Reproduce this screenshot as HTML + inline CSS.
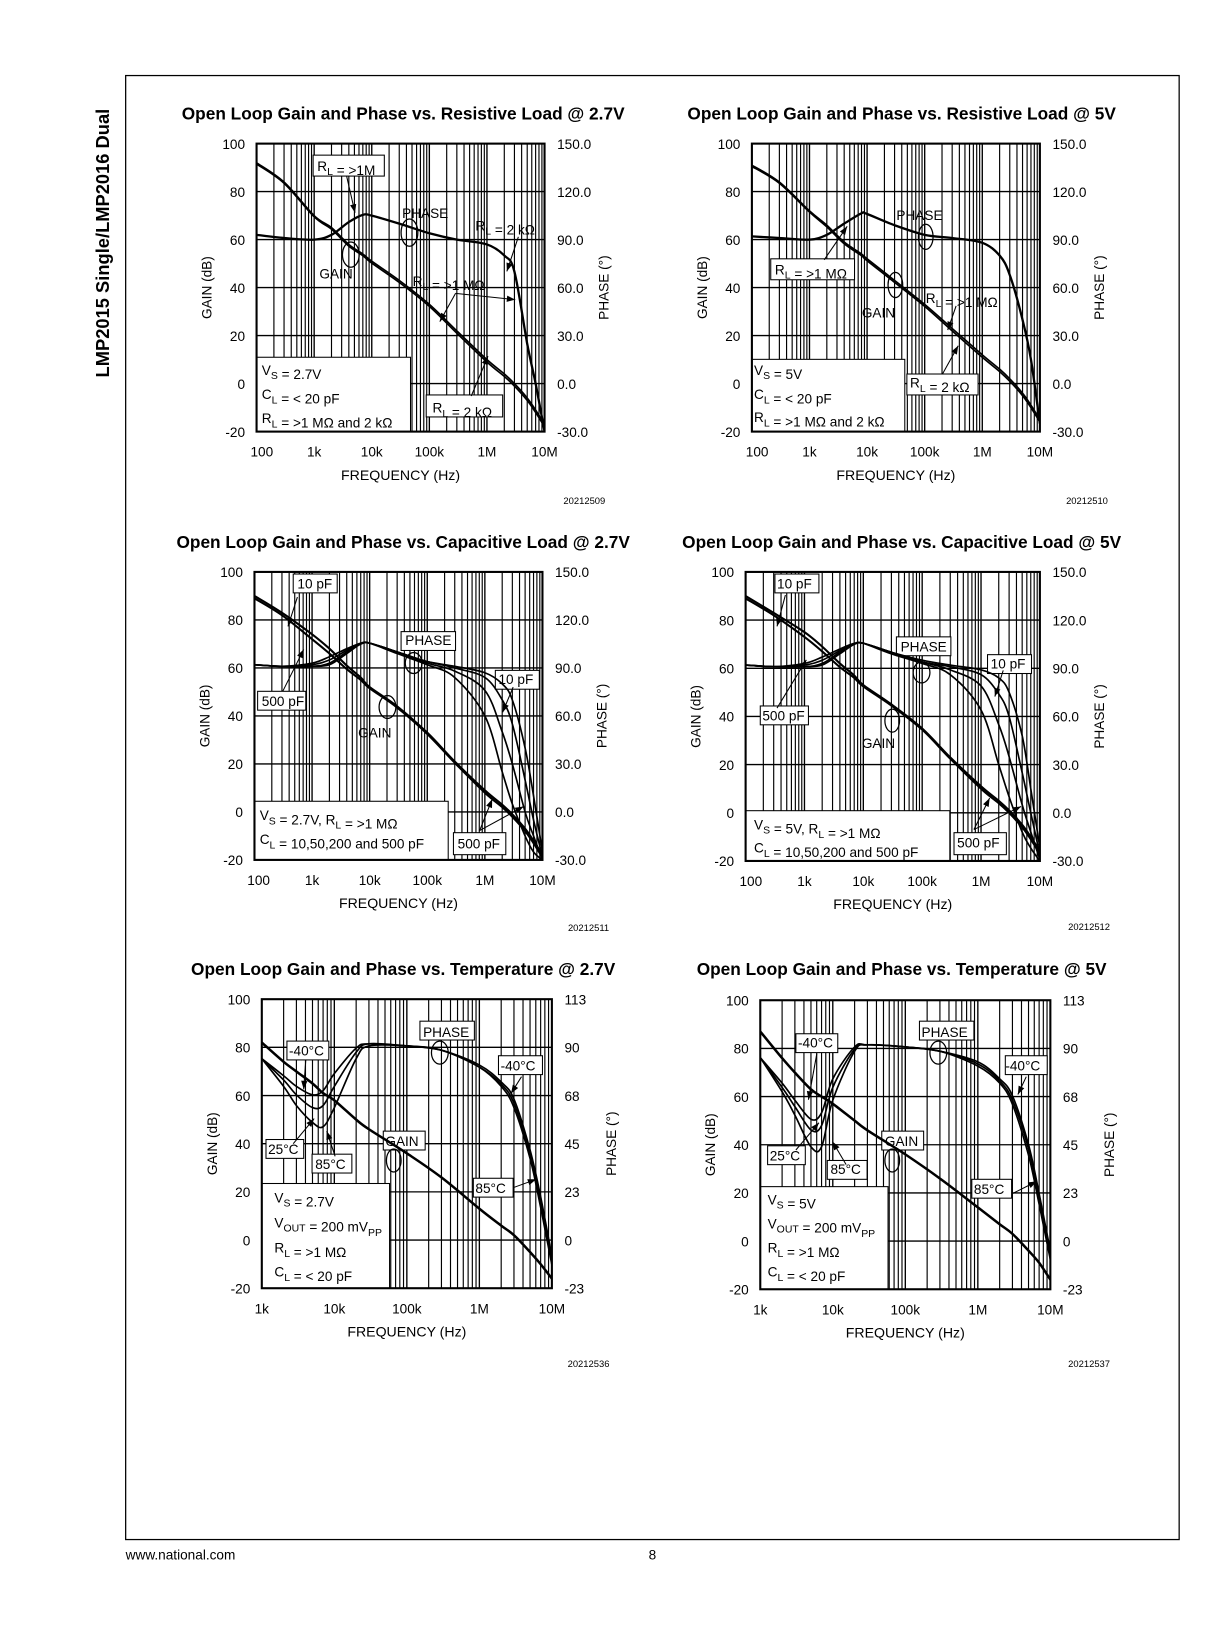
<!DOCTYPE html>
<html><head><meta charset="utf-8"><style>
html,body{margin:0;padding:0;background:#fff;}
svg{display:block;font-family:"Liberation Sans",Arial,sans-serif;}
</style></head><body>
<svg id="page" xmlns="http://www.w3.org/2000/svg" width="1220" height="1635" viewBox="0 0 1165 1561">
<rect x="0" y="0" width="1165" height="1561" fill="#fff"/>
<text transform="translate(104,232) rotate(-90)" text-anchor="middle" font-size="17.5" font-weight="bold">LMP2015 Single/LMP2016 Dual</text>
<rect x="120" y="72" width="1006" height="1398" fill="none" stroke="#000" stroke-width="1.2"/>
<text x="120" y="1489" font-size="13">www.national.com</text>
<text x="623" y="1489" font-size="13" text-anchor="middle">8</text>
<g id="charts"></g>
</svg>
<script>
// ---- data arrays ----
const aFreq = [100,300,1e3,2e3,4e3,7e3,1e4,3e4,1e5,3e5,1e6,2e6,3e6,5e6,7e6,1e7];
const aGain1M = [92,84,70,65,58,54,51,43,33,22,10,4,0,-6,-11,-17];
const aGain2k = [91.5,83.5,69.5,64.3,57.3,53.3,50.2,42.2,32.2,21,9,3,-1,-7,-12,-18];
const aPhase = [93,91,90,93,101,105.5,105,100,94,90,87,80,70,25,0,-30];

const bFreq = [100,300,1e3,2e3,4e3,8e3,1e4,3e4,1e5,3e5,1e6,2e6,3e6,5e6,7e6,1e7];
const bGain1M = [91,84,72,66,59,54,52,43,33,23,12,6,2,-4,-9,-15];
const bGain2k = [90.5,83.5,71.5,65.3,58.3,53.3,51.2,42.2,32.2,22,11,5,1,-5,-10,-16];
const bPhase = [92,91,90,93,100,106.5,106,99,93,91,88,80,68,40,15,-25];

const cFreq = [100,300,1e3,2e3,4e3,7e3,1e4,3e4,1e5,3e5,1e6,2e6,3e6,5e6,7e6,1e7];
const cGain10 = [90,83,74,68,61,56,52,44,33,21,9,3,-1,-7,-12,-18];
const cGain500 = [89,82,72,66,59.5,55,51.5,43.5,32.5,20.5,8,2,-2,-8,-13,-19];
const cPhase10 = [92,91,91,92,99,105,105.5,100,94,91,87,80,70,40,10,-25];
const cPhase50 = [92,91,91,93,100,105,105.5,100,94,90,84,70,55,20,-5,-28];
const cPhase200 = [92,91,92,95,101,105,105.5,100,93,88,76,50,30,0,-15,-30];
const cPhase500 = [92,91,93,97,102,105.5,105.5,99,92,84,60,25,5,-15,-25,-30];

const dFreq = [100,300,1e3,2e3,4e3,7e3,1e4,3e4,1e5,3e5,1e6,2e6,3e6,5e6,7e6,1e7];
const dGain10 = [90,83,75,69,62,57,53,45,35,23,11,5,1,-5,-10,-16];
const dGain500 = [89,82,73,67,60.5,56,52.5,44.5,34.5,22.5,10,4,0,-6,-11,-17];
const dPhase10 = [92,91,91,92,99,105,105.5,100,95,92,89,84,75,48,15,-22];
const dPhase50 = [92,91,91,93,100,105,105.5,100,94,91,86,74,60,25,0,-26];
const dPhase200 = [92,91,92,95,101,105,105.5,100,94,89,79,55,35,5,-12,-29];
const dPhase500 = [92,91,93,97,102,105.5,105.5,99,93,86,64,30,10,-12,-22,-30];

const eFreq = [1e3,2e3,3e3,5e3,7e3,1e4,2e4,3e4,1e5,3e5,1e6,2e6,3e6,5e6,7e6,1e7];
const eGain = [82,74,70,65,61,58,50,46,36,26,13,6,2,-5,-10,-16];
const ePhaseM40 = [85,77,72,68,70,78,90,92,91,89,82,74,66,42,20,-8];
const ePhase25 = [85,75,68,62,63,72,88,92,91,89,81,73,64,40,18,-10];
const ePhase85 = [85,72,63,55,53,62,85,91,91,89,81,72,62,38,15,-12];

const fFreq = [1e3,2e3,3e3,5e3,7e3,1e4,2e4,3e4,1e5,3e5,1e6,2e6,3e6,5e6,7e6,1e7];
const fGain = [87,76,70,63,60,57,50,46,36,26,14,7,3,-4,-9,-16];
const fPhaseM40 = [86,74,66,57,60,76,91,92,91,89,84,76,68,45,22,-5];
const fPhase25 = [86,72,63,52,54,72,90,92,91,89,83,75,66,43,20,-7];
const fPhase85 = [86,70,59,44,44,66,89,92,91,89,82,74,64,40,17,-9];

// ---- tick labels ----
const xTicksA = ["100","1k","10k","100k","1M","10M"];
const xTicksE = ["1k","10k","100k","1M","10M"];
const gainTicks = ["100","80","60","40","20","0","-20"];
const phaseTicksA = ["150.0","120.0","90.0","60.0","30.0","0.0","-30.0"];
const phaseTicksE = ["113","90","68","45","23","0","-23"];

const NS="http://www.w3.org/2000/svg";
const root=document.getElementById('charts');
function el(tag,attrs,parent){const e=document.createElementNS(NS,tag);for(const k in attrs)e.setAttribute(k,attrs[k]);(parent||root).appendChild(e);return e;}

function pathD(pts){
  let d='M'+pts[0][0].toFixed(1)+','+pts[0][1].toFixed(1);
  for(let i=0;i<pts.length-1;i++){
    const p0=pts[Math.max(0,i-1)],p1=pts[i],p2=pts[i+1],p3=pts[Math.min(pts.length-1,i+2)];
    const c1x=p1[0]+(p2[0]-p0[0])/6,c1y=p1[1]+(p2[1]-p0[1])/6;
    const c2x=p2[0]-(p3[0]-p1[0])/6,c2y=p2[1]-(p3[1]-p1[1])/6;
    d+=' C'+c1x.toFixed(1)+','+c1y.toFixed(1)+' '+c2x.toFixed(1)+','+c2y.toFixed(1)+' '+p2[0].toFixed(1)+','+p2[1].toFixed(1);
  }
  return d;
}

function makeChart(c){
  const g=el('g',{});
  
  
  const W=c.x1-c.x0,H=c.y1-c.y0;
  const sx=f=>c.x0+(Math.log10(f)-c.dec0)/c.ndec*W;
  const sg=v=>c.y0+(c.gmax-v)/(c.gmax-c.gmin)*H;
  const sp=v=>c.y0+(c.pmax-v)/(c.pmax-c.pmin)*H;
  const t=el('text',{x:c.tx,y:c.ty,'text-anchor':'middle','font-size':16.5,'font-weight':'bold'},g);
  t.textContent=c.title;
  
  
  for(let d=0;d<c.ndec;d++){
    for(let k=2;k<=9;k++){
      const x=sx(Math.pow(10,c.dec0+d)*k);
      const ln=el('line',{x1:x,x2:x,y1:c.y0,y2:c.y1,stroke:'#000','stroke-width':1.1},g);
      
      
    }
    if(d>0){const x=sx(Math.pow(10,c.dec0+d));el('line',{x1:x,x2:x,y1:c.y0,y2:c.y1,stroke:'#000','stroke-width':1.3},g);}
  }
  for(let i=1;i<6;i++){
    const y=c.y0+i*H/6;
    const ln=el('line',{x1:c.x0,x2:c.x1,y1:y,y2:y,stroke:'#000','stroke-width':1.3},g);
    
    
  }
  (c.boxes||[]).forEach(b=>{const r=el('rect',{x:b[0],y:b[1],width:b[2],height:b[3],fill:'#fff',stroke:'#000','stroke-width':1},g);
    });
  const fr=el('rect',{x:c.x0,y:c.y0,width:W,height:H,fill:'none',stroke:'#000','stroke-width':2},g);
  
  
  gainTicks.forEach((s,i)=>{const tt=el('text',{x:c.x0-11,y:c.y0+i*H/6+5,'text-anchor':'end','font-size':13},g);tt.textContent=s;
    });
  c.pticks.forEach((s,i)=>{const tt=el('text',{x:c.x1+12,y:c.y0+i*H/6+5,'font-size':13},g);tt.textContent=s;
    });
  c.xticks.forEach((s,i)=>{const tt=el('text',{x:sx(Math.pow(10,c.dec0+i))+(c.xoff?c.xoff[i]:0),y:c.y1+24,'text-anchor':'middle','font-size':13},g);tt.textContent=s;
    });
  const xl=el('text',{x:(c.x0+c.x1)/2,y:c.y1+46,'text-anchor':'middle','font-size':13.5},g);xl.textContent='FREQUENCY (Hz)';
  
  const yl=el('text',{transform:`translate(${c.x0-43},${(c.y0+c.y1)/2}) rotate(-90)`,'text-anchor':'middle','font-size':13},g);yl.textContent='GAIN (dB)';
  
  const yr=el('text',{transform:`translate(${c.x1+61},${(c.y0+c.y1)/2}) rotate(-90)`,'text-anchor':'middle','font-size':13},g);yr.textContent='PHASE (°)';
  
  const fn=el('text',{x:c.figx,y:c.figy,'text-anchor':'middle','font-size':9},g);fn.textContent=c.fig;
  
  const clip='clip'+c.name;
  const cp=el('clipPath',{id:clip},g);el('rect',{x:c.x0,y:c.y0-2,width:W,height:H+4},cp);
  const sg2=el('g',{'clip-path':`url(#${clip})`},g);
  c.gains.forEach(s=>{const p=el('path',{d:pathD(c.freq.map((f,i)=>[sx(f),sg(s.v[i])])),fill:'none',stroke:'#000','stroke-width':s.w||1.6},sg2);
    });
  c.phases.forEach(s=>{const p=el('path',{d:pathD(c.freq.map((f,i)=>[sx(f),sp(s.v[i])])),fill:'none',stroke:'#000','stroke-width':s.w||1.6},sg2);
    });
  (c.ells||[]).forEach(e=>{const q=el('ellipse',{cx:e[0],cy:e[1],rx:e[2],ry:e[3],fill:'none',stroke:'#000','stroke-width':1.2},g);
    });
  (c.arrows||[]).forEach(a=>{const ln=el('line',{x1:a[0],y1:a[1],x2:a[2],y2:a[3],stroke:'#000','stroke-width':1},g);
    
    const ang=Math.atan2(a[3]-a[1],a[2]-a[0]);const L=8,wd=3;
    const bx=a[2]-L*Math.cos(ang),by=a[3]-L*Math.sin(ang);
    el('polygon',{points:`${a[2]},${a[3]} ${bx-wd*Math.sin(ang)},${by+wd*Math.cos(ang)} ${bx+wd*Math.sin(ang)},${by-wd*Math.cos(ang)}`,fill:'#000'},g);});
  (c.labels||[]).forEach(l=>{const tt=el('text',{x:l[0],y:l[1],'font-size':13},g);
    tt.innerHTML=l[2].replace(/_(\w+)/g,'<tspan font-size="10" dy="4">$1</tspan><tspan dy="-4"></tspan>');
    });
}

makeChart({name:'chart-resistive-2v7',title:'Open Loop Gain and Phase vs. Resistive Load @ 2.7V',tx:385,ty:114,
  x0:245,x1:520,y0:137,y1:412,dec0:2,ndec:5,gmin:-20,gmax:100,pmin:-30,pmax:150,pticks:phaseTicksA,xticks:xTicksA,
  xoff:[5,0,0,0,0,0],fig:'20212509',figx:558,figy:481,freq:aFreq,
  gains:[{n:'gain-rl-1m',v:aGain1M},{n:'gain-rl-2k',v:aGain2k}],phases:[{n:'phase-rl',v:aPhase,w:2.2}],
  boxes:[[245,341,147,71],[407,377,73,21],[299,148,68,20]],
  ells:[[335,243,8,12],[391,222,8,13]],
  arrows:[[331,168,339,203],[495,226,484,259],[435,280,420,307],[435,280,492,286],[450,378,466,340]],
  labels:[[303,163,'R_L = >1M'],[384,208,'PHASE'],[454,220,'R_L = 2 kΩ'],[305,266,'GAIN'],[394,273,'R_L = >1 MΩ'],
    [250,358,'V_S = 2.7V'],[250,381,'C_L = < 20 pF'],[250,404,'R_L =  >1 MΩ and 2 kΩ'],[413,394,'R_L = 2 kΩ']]});

makeChart({name:'chart-resistive-5v',title:'Open Loop Gain and Phase vs. Resistive Load @ 5V',tx:861,ty:114,
  x0:718,x1:993,y0:137,y1:412,dec0:2,ndec:5,gmin:-20,gmax:100,pmin:-30,pmax:150,pticks:phaseTicksA,xticks:xTicksA,
  xoff:[5,0,0,0,0,0],fig:'20212510',figx:1038,figy:481,freq:bFreq,
  gains:[{n:'gain-rl-1m',v:bGain1M},{n:'gain-rl-2k',v:bGain2k}],phases:[{n:'phase-rl',v:bPhase,w:2.2}],
  boxes:[[718,343,146,69],[736,247,80,20],[866,357,68,20]],
  ells:[[855,272,7,12],[884,226,7,12]],
  arrows:[[787,248,809,216],[913,292,905,315],[900,357,915,330]],
  labels:[[856,210,'PHASE'],[740,262,'R_L = >1 MΩ'],[823,303,'GAIN'],[884,289,'R_L = >1 MΩ'],[869,370,'R_L = 2 kΩ'],
    [720,358,'V_S = 5V'],[720,381,'C_L = < 20 pF'],[720,403,'R_L =  >1 MΩ and 2 kΩ']]});

makeChart({name:'chart-capacitive-2v7',title:'Open Loop Gain and Phase vs. Capacitive Load @ 2.7V',tx:385,ty:523,
  x0:243,x1:518,y0:546,y1:821,dec0:2,ndec:5,gmin:-20,gmax:100,pmin:-30,pmax:150,pticks:phaseTicksA,xticks:xTicksA,
  xoff:[4,0,0,0,0,0],fig:'20212511',figx:562,figy:889,freq:cFreq,
  gains:[{n:'gain-10pf',v:cGain10,w:2},{n:'gain-500pf',v:cGain500,w:2}],
  phases:[{n:'phase-10pf',v:cPhase10},{n:'phase-50pf',v:cPhase50},{n:'phase-200pf',v:cPhase200},{n:'phase-500pf',v:cPhase500}],
  boxes:[[243,765,185,56],[433,795,50,21],[280,548,42,18],[246,660,46,18],[473,640,42,18],[383,603,52,18]],
  ells:[[370,675,8,11],[395,633,8,10]],
  arrows:[[284,570,275,598],[270,660,290,620],[490,656,480,680],[458,793,470,763],[458,793,500,770]],
  labels:[[284,562,'10 pF'],[387,616,'PHASE'],[476,653,'10 pF'],[250,674,'500 pF'],[342,704,'GAIN'],
    [248,783,'V_S = 2.7V, R_L = >1 MΩ'],[248,806,'C_L = 10,50,200 and 500 pF'],[437,810,'500 pF']]});

makeChart({name:'chart-capacitive-5v',title:'Open Loop Gain and Phase vs. Capacitive Load @ 5V',tx:861,ty:523,
  x0:712,x1:993,y0:546,y1:822,dec0:2,ndec:5,gmin:-20,gmax:100,pmin:-30,pmax:150,pticks:phaseTicksA,xticks:xTicksA,
  xoff:[5,0,0,0,0,0],fig:'20212512',figx:1040,figy:888,freq:dFreq,
  gains:[{n:'gain-10pf',v:dGain10,w:2},{n:'gain-500pf',v:dGain500,w:2}],
  phases:[{n:'phase-10pf',v:dPhase10},{n:'phase-50pf',v:dPhase50},{n:'phase-200pf',v:dPhase200},{n:'phase-500pf',v:dPhase500}],
  boxes:[[712,774,195,48],[911,795,50,21],[740,548,42,18],[726,674,46,18],[943,625,42,18],[856,608,52,18]],
  ells:[[852,688,7,11],[880,642,8,10]],
  arrows:[[750,568,742,598],[742,676,770,630],[958,640,950,665],[930,792,945,762],[930,792,975,770]],
  labels:[[742,562,'10 pF'],[860,622,'PHASE'],[946,638,'10 pF'],[728,688,'500 pF'],[823,714,'GAIN'],
    [720,792,'V_S = 5V, R_L = >1 MΩ'],[720,814,'C_L = 10,50,200 and 500 pF'],[914,809,'500 pF']]});

makeChart({name:'chart-temperature-2v7',title:'Open Loop Gain and Phase vs. Temperature @ 2.7V',tx:385,ty:931,
  x0:250,x1:527,y0:954,y1:1230,dec0:3,ndec:4,gmin:-20,gmax:100,pmin:-23,pmax:113,pticks:phaseTicksE,xticks:xTicksE,
  fig:'20212536',figx:562,figy:1305,freq:eFreq,
  gains:[{n:'gain-temp',v:eGain,w:2.4}],
  phases:[{n:'phase-m40c',v:ePhaseM40},{n:'phase-25c',v:ePhase25},{n:'phase-85c',v:ePhase85}],
  boxes:[[250,1130,122,100],[274,994,40,18],[254,1088,36,18],[298,1102,38,18],[476,1008,42,18],[452,1125,38,18],[401,975,52,18],[366,1080,40,18]],
  ells:[[376,1108,7,11],[420,1005,8,11]],
  arrows:[[292,1012,290,1040],[280,1092,300,1068],[320,1104,312,1080],[498,1028,488,1044],[490,1134,512,1126]],
  labels:[[404,990,'PHASE'],[276,1008,'-40°C'],[478,1022,'-40°C'],[256,1102,'25°C'],[301,1116,'85°C'],[368,1094,'GAIN'],[454,1139,'85°C'],
    [262,1148,'V_S = 2.7V'],[262,1172,'V_OUT = 200 mV_PP'],[262,1196,'R_L = >1 MΩ'],[262,1219,'C_L = < 20 pF']]});

makeChart({name:'chart-temperature-5v',title:'Open Loop Gain and Phase vs. Temperature @ 5V',tx:861,ty:931,
  x0:726,x1:1003,y0:955,y1:1231,dec0:3,ndec:4,gmin:-20,gmax:100,pmin:-23,pmax:113,pticks:phaseTicksE,xticks:xTicksE,
  fig:'20212537',figx:1040,figy:1305,freq:fFreq,
  gains:[{n:'gain-temp',v:fGain,w:2.4}],
  phases:[{n:'phase-m40c',v:fPhaseM40},{n:'phase-25c',v:fPhase25},{n:'phase-85c',v:fPhase85}],
  boxes:[[726,1133,122,98],[760,987,40,18],[733,1094,36,18],[790,1108,38,18],[960,1008,40,18],[928,1126,38,18],[878,975,52,18],[842,1080,40,18]],
  ells:[[852,1108,7,11],[896,1005,8,11]],
  arrows:[[780,1006,772,1050],[760,1098,782,1072],[808,1112,795,1090],[980,1028,972,1045],[966,1140,990,1128]],
  labels:[[880,990,'PHASE'],[762,1000,'-40°C'],[960,1022,'-40°C'],[735,1108,'25°C'],[793,1121,'85°C'],[845,1094,'GAIN'],[930,1140,'85°C'],
    [733,1150,'V_S = 5V'],[733,1173,'V_OUT = 200 mV_PP'],[733,1196,'R_L = >1 MΩ'],[733,1219,'C_L = < 20 pF']]});
</script>
</body></html>
